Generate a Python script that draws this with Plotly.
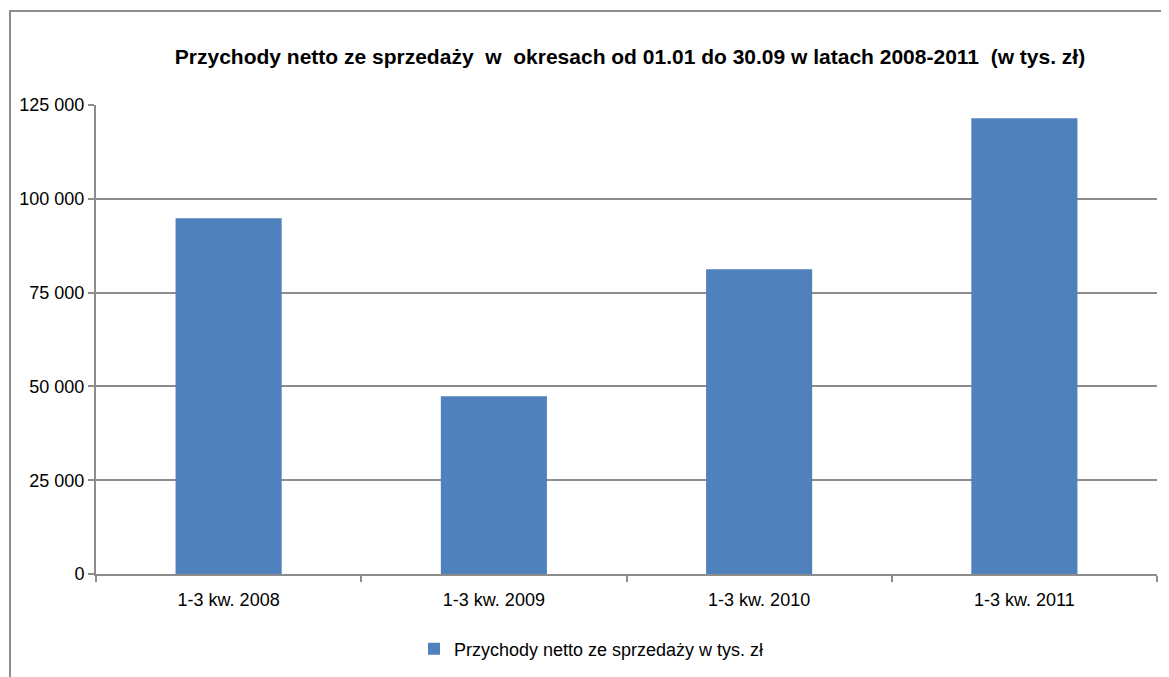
import plotly.graph_objects as go

categories = ["1-3 kw. 2008", "1-3 kw. 2009", "1-3 kw. 2010", "1-3 kw. 2011"]
values = [94800, 47400, 81200, 121500]
series_name = "Przychody netto ze sprzedaży w tys. zł"
title_text = "Przychody netto ze sprzedaży  w  okresach od 01.01 do 30.09 w latach 2008-2011  (w tys. zł)"
y_ticks = [0, 25000, 50000, 75000, 100000, 125000]

# page is drawn with the browser's default 8px body margin
OFF = 8
W, H = 1169 - OFF, 677 - OFF
ml = 96 - OFF
mt = 105 - OFF
mr = 1169 - 1157
mb = 677 - 574
pw = W - ml - mr
ph = H - mt - mb

FONT = "Liberation Sans, Arial, sans-serif"
GRID = "#8c8c8c"

def px_x(x):  # page pixel -> paper x
    return (x - OFF - ml) / pw

def px_y(y):  # page pixel -> paper y
    return (H - mb - (y - OFF)) / ph

fig = go.Figure()
fig.add_trace(go.Bar(
    x=categories, y=values, name=series_name,
    marker=dict(color="#4F81BD", line=dict(width=0)),
    width=0.4, showlegend=True,
))

fig.update_layout(
    width=W, height=H,
    margin=dict(l=ml, r=mr, t=mt, b=mb, autoexpand=False),
    paper_bgcolor="white", plot_bgcolor="white",
    separators=". ",
    font=dict(family=FONT, size=18, color="#000000"),
    title=dict(
        text="<b>" + title_text + "</b>",
        x=(630 - OFF) / W, xanchor="center",
        y=1 - (57 - OFF) / H, yanchor="middle",
        font=dict(family=FONT, size=21, color="#000000"),
    ),
    showlegend=True,
    legend=dict(
        orientation="h", x=px_x(414), xanchor="left",
        y=px_y(649), yanchor="middle",
        font=dict(family=FONT, size=18, color="#000000"),
        bgcolor="rgba(0,0,0,0)",
    ),
    xaxis=dict(
        type="category", tickson="boundaries",
        ticks="outside", ticklen=6, tickcolor=GRID, tickwidth=1.5,
        showline=True, linecolor=GRID, linewidth=2,
        showgrid=False, zeroline=False,
        ticklabelstandoff=8,
        tickfont=dict(family=FONT, size=18, color="#000000"),
        range=[-0.5, 3.5],
    ),
    yaxis=dict(
        range=[0, 125000], tickvals=y_ticks, tickformat=",d",
        ticks="outside", ticklen=6, tickcolor=GRID, tickwidth=1.5,
        showline=True, linecolor=GRID, linewidth=2,
        showgrid=True, gridcolor=GRID, gridwidth=1.5,
        zeroline=False,
        tickfont=dict(family=FONT, size=18, color="#000000"),
    ),
    bargap=0.6,
    shapes=[dict(
        type="rect", xref="paper", yref="paper",
        x0=px_x(10), x1=px_x(1190), y0=px_y(700), y1=px_y(11),
        line=dict(color="#8c8c8c", width=2), fillcolor="rgba(0,0,0,0)",
        layer="below",
    )],
)

fig.write_html("out.html")
